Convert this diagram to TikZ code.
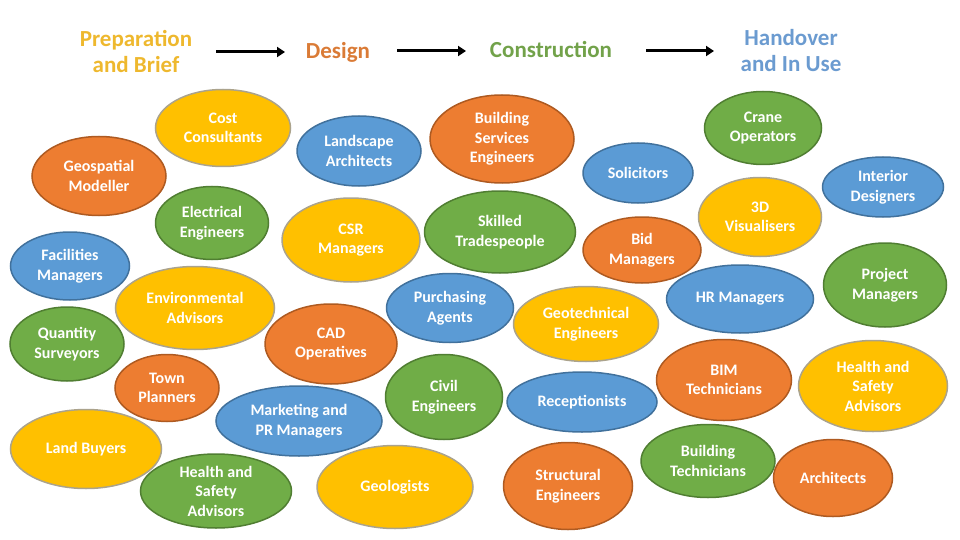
\documentclass[tikz,border=0pt]{standalone}
\usepackage{fontspec}
\setmainfont{Carlito}
\usetikzlibrary{shapes.geometric,arrows.meta}
\definecolor{fO}{HTML}{ED7D31}\definecolor{dO}{HTML}{AE5A21}
\definecolor{fB}{HTML}{5B9BD5}\definecolor{dB}{HTML}{41719C}
\definecolor{fG}{HTML}{70AD47}\definecolor{dG}{HTML}{507E32}
\definecolor{fY}{HTML}{FFC000}\definecolor{dY}{HTML}{ABA38C}
\definecolor{hPrep}{HTML}{EEB82E}
\definecolor{hDes}{HTML}{DA7B36}
\definecolor{hCon}{HTML}{72A24A}
\definecolor{hHan}{HTML}{6B9BD0}
\tikzset{
  bub/.style={ellipse, draw, line width=1.5pt, inner sep=0pt, align=center,
    text=white, font=\fontsize{16}{19.5}\selectfont\bfseries},
  bo/.style={bub, fill=fO, draw=dO},
  bb/.style={bub, fill=fB, draw=dB},
  bg/.style={bub, fill=fG, draw=dG},
  by/.style={bub, fill=fY, draw=dY},
  hdr/.style={align=center, font=\fontsize{23}{26}\selectfont\bfseries, inner sep=0pt},
  flow/.style={line width=3pt, -{Triangle[length=8pt,width=10pt]}}
}
\begin{document}
\begin{tikzpicture}[x=1pt,y=-1pt]
\useasboundingbox (0,0) rectangle (960,540);
% headers
\node[hdr, text=hPrep] (prep) at (136,51) {Preparation\\and Brief};
\node[hdr, text=hDes] (des) at (338,52) {Design};
\node[hdr, text=hCon] (con) at (551,50) {Construction};
\node[hdr, text=hHan] (han) at (791,51) {Handover\\and In Use};
\coordinate (a1s) at (216,52); \coordinate (a1e) at (285,52);
\coordinate (a2s) at (397,51); \coordinate (a2e) at (466,51);
\coordinate (a3s) at (646,51); \coordinate (a3e) at (714,51);
\draw[flow] (a1s) -- (a1e);
\draw[flow] (a2s) -- (a2e);
\draw[flow] (a3s) -- (a3e);
% bubbles
\node[by, minimum width=135pt, minimum height=77pt] (cost) at (223,128) {Cost\\Consultants};
\node[bo, minimum width=134pt, minimum height=79pt] (geo) at (99,176) {Geospatial\\Modeller};
\node[bg, minimum width=113pt, minimum height=73pt] (elec) at (212,223) {Electrical\\Engineers};
\node[bb, minimum width=119pt, minimum height=68pt] (fac) at (70,266) {Facilities\\Managers};
\node[by, minimum width=159pt, minimum height=83pt] (env) at (195,308) {Environmental\\Advisors};
\node[bg, minimum width=114pt, minimum height=74pt] (qs) at (67,344) {Quantity\\Surveyors};
\node[bo, minimum width=104pt, minimum height=67pt] (town) at (167,388) {Town\\Planners};
\node[by, minimum width=151pt, minimum height=79pt] (land) at (86,449) {Land Buyers};
\node[bg, minimum width=151pt, minimum height=74pt] (hsa) at (216,491) {Health and\\Safety\\Advisors};
\node[bb, minimum width=166pt, minimum height=70pt] (mkt) at (299,421) {Marketing and\\PR Managers};
\node[bb, minimum width=124pt, minimum height=70pt] (lsc) at (359,151) {Landscape\\Architects};
\node[bo, minimum width=144pt, minimum height=88pt] (bse) at (502,139) {Building\\Services\\Engineers};
\node[bb, minimum width=110pt, minimum height=60pt] (sol) at (638,173) {Solicitors};
\node[by, minimum width=138pt, minimum height=84pt] (csr) at (351,240) {CSR\\Managers};
\node[bg, minimum width=151pt, minimum height=82pt] (skill) at (500,232) {Skilled\\Tradespeople};
\node[bo, minimum width=118pt, minimum height=66pt] (bid) at (642,250) {Bid\\Managers};
\node[bb, minimum width=127pt, minimum height=69pt] (purch) at (450,308) {Purchasing\\Agents};
\node[bg, minimum width=117pt, minimum height=73pt] (crane) at (763,128) {Crane\\Operators};
\node[bb, minimum width=121pt, minimum height=60pt] (int) at (883,187) {Interior\\Designers};
\node[by, minimum width=123pt, minimum height=79pt] (vis) at (760,217) {3D\\Visualisers};
\node[bg, minimum width=123pt, minimum height=84pt] (pm) at (885,285) {Project\\Managers};
\node[bb, minimum width=147pt, minimum height=68pt] (hr) at (740,299) {HR Managers};
\node[bo, minimum width=132pt, minimum height=80pt] (cad) at (331,344) {CAD\\Operatives};
\node[by, minimum width=145pt, minimum height=75pt] (geot) at (586,324) {Geotechnical\\Engineers};
\node[bg, minimum width=117pt, minimum height=85pt] (civil) at (444,397) {Civil\\Engineers};
\node[bb, minimum width=150pt, minimum height=60pt] (recep) at (582,402) {Receptionists};
\node[by, minimum width=156pt, minimum height=83pt] (geol) at (395,487) {Geologists};
\node[bo, minimum width=129pt, minimum height=87pt] (struct) at (568,486) {Structural\\Engineers};
\node[bo, minimum width=135pt, minimum height=81pt] (bim) at (724,380) {BIM\\Technicians};
\node[by, minimum width=149pt, minimum height=91pt] (hsb) at (873,386) {Health and\\Safety\\Advisors};
\node[bg, minimum width=134pt, minimum height=73pt] (btech) at (708,461) {Building\\Technicians};
\node[bo, minimum width=119pt, minimum height=77pt] (archi) at (833,478) {Architects};
\end{tikzpicture}
\end{document}
